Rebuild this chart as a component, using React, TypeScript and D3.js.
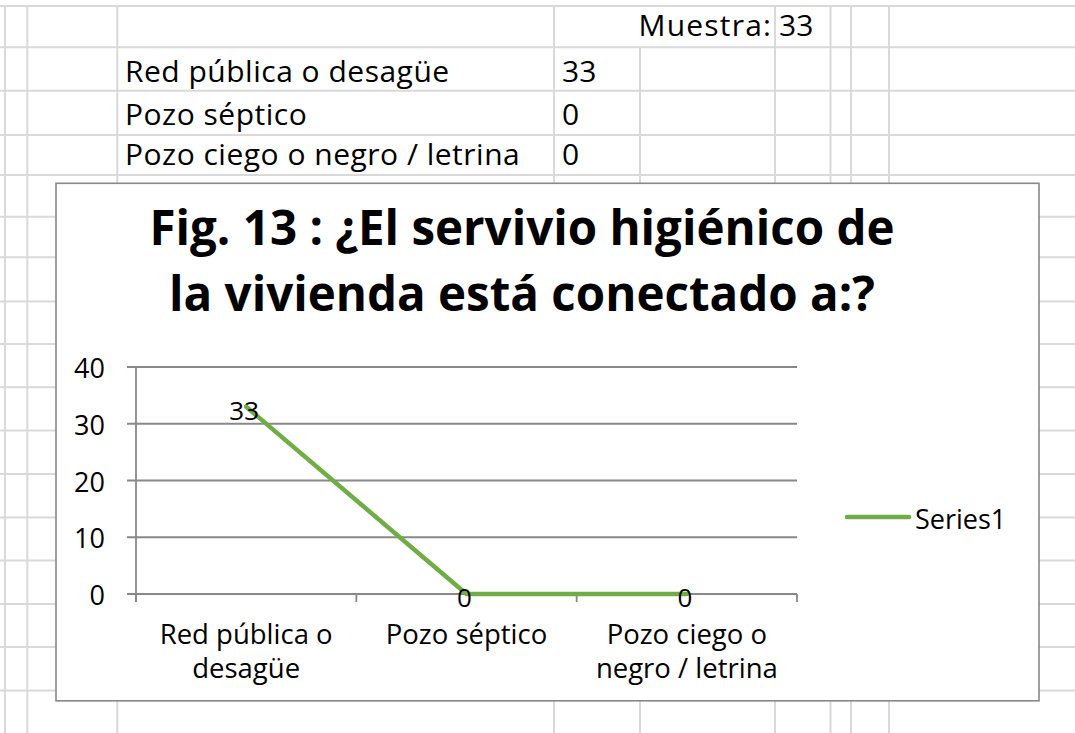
import React from "react";
import * as d3 from "d3";

// ---- data ----
const categories = ["Red pública o desagüe", "Pozo séptico", "Pozo ciego o negro / letrina"];
const categoryTickLines = [["Red pública o", "desagüe"], ["Pozo séptico"], ["Pozo ciego o", "negro / letrina"]];
const values = [33, 0, 0];
const yTicks = [0, 10, 20, 30, 40];
const sampleLabel = "Muestra:";
const sampleSize = 33;
const titleLines = ["Fig. 13 : ¿El servivio higiénico de", "la vivienda está conectado a:?"];
const seriesName = "Series1";

// ---- layout ----
const W = 1075;
const H = 733;
const gridRows = [6, 47.3, 90.7, 135, 175, 216.7, 257.3, 301.5, 344, 387.3, 430.5, 474, 517.5, 560.5, 604, 647, 690.5];
const gridCols = [5, 27.3, 117.3, 554, 640, 775, 830.5, 851, 889];
const GRID = "#d9d9d9";
const FONT = "'Open Sans', 'DejaVu Sans', sans-serif";
const GREEN = "#70ad47";
const AX = "#888888";

const frame = { x: 56, y: 183.3, w: 983, h: 517.5 };
const plot = { left: 136, right: 797, top: 367, bottom: 594 };

function T({ x, y, size, anchor = "start", weight = 400, ls = 0, children }: any) {
  const dx = anchor === "end" ? ls : anchor === "middle" ? ls / 2 : 0;
  return (
    <text
      x={x + dx}
      y={y}
      fontFamily={FONT}
      fontSize={size}
      fontWeight={weight}
      textAnchor={anchor}
      letterSpacing={ls}
      fill="#000"
    >
      {children}
    </text>
  );
}

export default function App() {
  const x = d3.scaleBand<string>().domain(categories).range([plot.left, plot.right]).padding(0);
  const y = d3.scaleLinear().domain([0, 40]).range([plot.bottom, plot.top]);
  const cx = (c: string) => (x(c) as number) + x.bandwidth() / 2;
  const line = d3
    .line<number>()
    .x((_, i) => cx(categories[i]))
    .y((v) => y(v));
  const bandEdges = [...categories.map((c) => x(c) as number), plot.right];

  const rowBaselines = [81.5, 125, 165];
  const CELL = 30;
  const CELL_LS = 0.5;
  const AXF = 27.5;

  return (
    <div style={{ position: "absolute", left: 0, top: 0 }}>
      <svg width={W} height={H} style={{ display: "block", background: "#fff" }}>
        {/* spreadsheet grid */}
        {gridRows.map((gy, i) => (
          <line key={"r" + i} x1={0} x2={W} y1={gy} y2={gy} stroke={GRID} strokeWidth={2} />
        ))}
        {gridCols.map((gx, i) => (
          <line
            key={"c" + i}
            x1={gx}
            x2={gx}
            y1={gx === 640 ? gridRows[1] : gridRows[0]}
            y2={H}
            stroke={GRID}
            strokeWidth={2}
          />
        ))}
        {/* cell texts */}
        <T x={771} y={36} size={CELL} anchor="end" ls={1.2}>{sampleLabel}</T>
        <T x={779} y={36} size={CELL}>{sampleSize}</T>
        {categories.map((c, i) => (
          <g key={"t" + i}>
            <T x={125} y={rowBaselines[i]} size={CELL} ls={CELL_LS}>{c}</T>
            <T x={562} y={rowBaselines[i]} size={CELL}>{values[i]}</T>
          </g>
        ))}

        {/* chart frame */}
        <rect x={frame.x} y={frame.y} width={frame.w} height={frame.h} fill="#fff" stroke={AX} strokeWidth={1.6} />

        {/* title */}
        <T x={522} y={245} size={47.5} anchor="middle" weight={700}>{titleLines[0]}</T>
        <T x={522} y={311} size={47.5} anchor="middle" weight={700}>{titleLines[1]}</T>

        {/* gridlines + y ticks */}
        {yTicks.map((t) => (
          <g key={"y" + t}>
            <line x1={plot.left - 9} x2={plot.right} y1={y(t)} y2={y(t)} stroke={AX} strokeWidth={1.8} />
            <T x={105} y={y(t) + 11} size={27} anchor="end">{t}</T>
          </g>
        ))}
        {/* y axis line */}
        <line x1={plot.left} x2={plot.left} y1={plot.top} y2={plot.bottom + 8} stroke={AX} strokeWidth={1.8} />
        {/* x ticks */}
        {bandEdges.map((e, i) => (
          <line key={"xt" + i} x1={e} x2={e} y1={plot.bottom} y2={plot.bottom + 8} stroke={AX} strokeWidth={1.8} />
        ))}
        {/* category labels */}
        {categories.map((c, i) => (
          <g key={"xl" + i}>
            {categoryTickLines[i].map((ln, j) => (
              <T key={j} x={cx(c)} y={644 + j * 33.5} size={AXF} anchor="middle">{ln}</T>
            ))}
          </g>
        ))}

        {/* series */}
        <path d={line(values) || ""} fill="none" stroke={GREEN} strokeWidth={4.5} strokeLinecap="round" strokeLinejoin="round" />
        {values.map((v, i) => (
          <T key={"dl" + i} x={cx(categories[i]) - 2} y={y(v) + 13} size={26} anchor="middle">{v}</T>
        ))}

        {/* legend */}
        <line x1={847} x2={909} y1={517} y2={517} stroke={GREEN} strokeWidth={4.5} strokeLinecap="round" />
        <T x={915} y={529} size={27}>{seriesName}</T>
      </svg>
    </div>
  );
}
